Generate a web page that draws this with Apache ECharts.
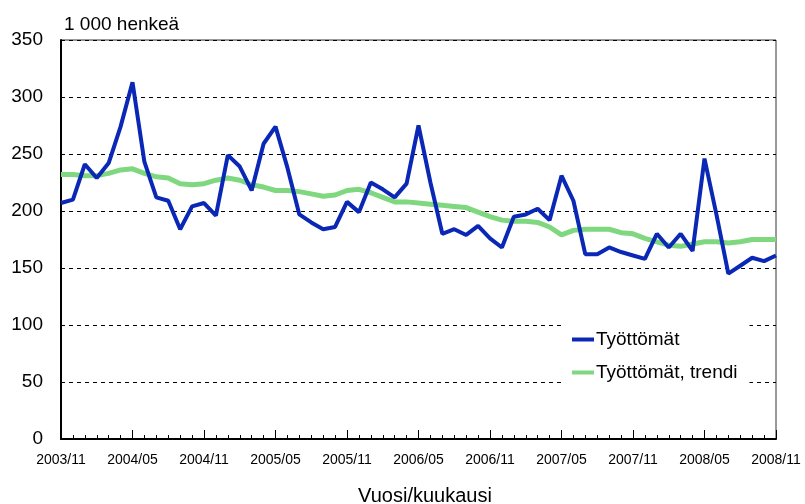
<!DOCTYPE html>
<html>
<head>
<meta charset="utf-8">
<script src="https://cdn.jsdelivr.net/npm/echarts@6/dist/echarts.min.js"></script>
<style>
html,body{margin:0;padding:0;background:#fff;}
#chart{width:805px;height:504px;}
</style>
</head>
<body>
<div id="chart"></div>
<script>
var months = [
'2003/11','2003/12',
'2004/01','2004/02','2004/03','2004/04','2004/05','2004/06','2004/07','2004/08','2004/09','2004/10','2004/11','2004/12',
'2005/01','2005/02','2005/03','2005/04','2005/05','2005/06','2005/07','2005/08','2005/09','2005/10','2005/11','2005/12',
'2006/01','2006/02','2006/03','2006/04','2006/05','2006/06','2006/07','2006/08','2006/09','2006/10','2006/11','2006/12',
'2007/01','2007/02','2007/03','2007/04','2007/05','2007/06','2007/07','2007/08','2007/09','2007/10','2007/11','2007/12',
'2008/01','2008/02','2008/03','2008/04','2008/05','2008/06','2008/07','2008/08','2008/09','2008/10','2008/11'
];
var unemployed = [207,210,241,229,242,274,313,243,212,209,184,204,207,196,249,239,218,259,274,238,197,190,184,186,208,199,225,219,212,224,275,225,180,184,179,187,176,168,195,197,202,192,231,209,162,162,168,164,161,158,180,168,180,165,246,197,145,152,159,156,161];
var trend = [232,232,231,231,233,236,237,233,230,229,224,223,224,227,229,227,223,221,218,218,217,215,213,214,218,219,216,212,208,208,207,206,205,204,203,199,195,192,191,191,190,186,179,183,184,184,184,181,180,176,173,170,169,171,173,173,172,173,175,175,175];
var seriesNames = ['Työttömät', 'Työttömät, trendi'];
var yTitle = '1 000 henkeä';
var xTitle = 'Vuosi/kuukausi';

var FONT = "'Liberation Sans', Arial, sans-serif";
var chart = echarts.init(document.getElementById('chart'), null, {renderer: 'canvas'});
chart.setOption({
  animation: false,
  backgroundColor: '#fff',
  textStyle: {fontFamily: FONT, color: '#000'},
  grid: {left: 61, right: 29, top: 40, bottom: 65, show: true, borderColor: '#333', borderWidth: 1, containLabel: false},
  title: [
    {text: yTitle, left: 59, top: 10, textStyle: {fontSize: 19, fontWeight: 'normal', color: '#000', fontFamily: FONT}},
    {text: xTitle, left: 420, textAlign: 'center', top: 481, textStyle: {fontSize: 20, fontWeight: 'normal', color: '#000', fontFamily: FONT}}
  ],
  legend: {
    data: seriesNames,
    orient: 'vertical',
    left: 565,
    top: 319,
    padding: [11, 12, 9, 7],
    itemGap: 14,
    itemWidth: 22,
    itemHeight: 4,
    icon: 'rect',
    backgroundColor: '#fff',
    textStyle: {fontSize: 19, color: '#000', fontFamily: FONT, padding: [0, 0, 0, -3]}
  },
  xAxis: [
    {
      type: 'category', data: months, boundaryGap: false,
      axisLine: {lineStyle: {color: '#000', width: 2}},
      axisTick: {show: true, inside: true, interval: 5, length: 9, lineStyle: {color: '#000', width: 1}},
      axisLabel: {interval: 5, fontSize: 14, color: '#000', margin: 14, fontFamily: FONT},
      splitLine: {show: false}
    },
    {
      type: 'category', data: months, boundaryGap: false, position: 'bottom',
      axisLine: {show: false},
      axisTick: {show: true, inside: true, interval: 0, length: 4, lineStyle: {color: '#000', width: 1}},
      axisLabel: {show: false},
      splitLine: {show: false}
    }
  ],
  yAxis: {
    type: 'value', min: 0, max: 350, interval: 50,
    axisLine: {show: true, lineStyle: {color: '#000', width: 2}},
    axisTick: {show: false},
    axisLabel: {fontSize: 19, color: '#000', margin: 18, fontFamily: FONT},
    splitLine: {show: true, lineStyle: {color: '#000', type: [4, 4], width: 1}}
  },
  series: [
    {
      name: seriesNames[1], type: 'line', data: trend, xAxisIndex: 0,
      showSymbol: false, symbol: 'none', z: 2,
      lineStyle: {color: '#7fd87f', width: 5},
      itemStyle: {color: '#7fd87f'}
    },
    {
      name: seriesNames[0], type: 'line', data: unemployed, xAxisIndex: 0,
      showSymbol: false, symbol: 'none', z: 3,
      lineStyle: {color: '#0a28b5', width: 4},
      itemStyle: {color: '#0a28b5'}
    }
  ]
});
</script>
</body>
</html>
